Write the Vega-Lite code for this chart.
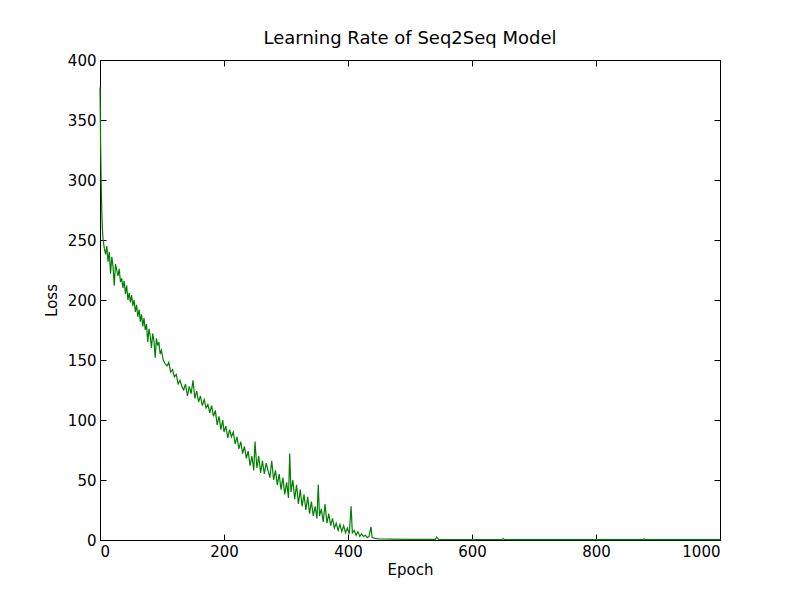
{
  "$schema": "https://vega.github.io/schema/vega-lite/v6.json",
  "width": 620,
  "height": 480,
  "autosize": "none",
  "padding": {"left": 100, "top": 60, "right": 80, "bottom": 60},
  "background": "white",
  "title": {"text": "Learning Rate of Seq2Seq Model", "font": "DejaVu Sans", "fontSize": 18, "fontWeight": "normal", "offset": 5},
  "config": {
    "view": {"stroke": "black", "strokeWidth": 1},
    "axis": {
      "labelFont": "DejaVu Sans", "labelFontSize": 15, "labelColor": "black",
      "titleFont": "DejaVu Sans", "titleFontSize": 15, "titleFontWeight": "normal", "titleColor": "black",
      "domainColor": "black", "tickColor": "black", "tickSize": -6, "labelPadding": 10,
      "format": "d", "grid": false
    }
  },
  "data": {"values": [
    {"epoch":0,"loss":377},{"epoch":1,"loss":330},{"epoch":2,"loss":295},{"epoch":3,"loss":272},{"epoch":4,"loss":258},{"epoch":5,"loss":250},{"epoch":7,"loss":243},{"epoch":9,"loss":238},{"epoch":11,"loss":245},{"epoch":13,"loss":232},{"epoch":15,"loss":240},{"epoch":17,"loss":222},{"epoch":19,"loss":236},{"epoch":21,"loss":228},{"epoch":23,"loss":212},{"epoch":25,"loss":230},{"epoch":27,"loss":225},{"epoch":29,"loss":220},{"epoch":31,"loss":226},{"epoch":33,"loss":215},{"epoch":35,"loss":218},{"epoch":37,"loss":210},{"epoch":39,"loss":216},{"epoch":41,"loss":205},{"epoch":43,"loss":212},{"epoch":45,"loss":200},{"epoch":47,"loss":206},{"epoch":49,"loss":198},{"epoch":51,"loss":204},{"epoch":53,"loss":195},{"epoch":55,"loss":200},{"epoch":57,"loss":190},{"epoch":59,"loss":196},{"epoch":61,"loss":186},{"epoch":63,"loss":192},{"epoch":65,"loss":182},{"epoch":67,"loss":188},{"epoch":69,"loss":178},{"epoch":71,"loss":185},{"epoch":73,"loss":175},{"epoch":75,"loss":180},{"epoch":77,"loss":165},{"epoch":79,"loss":176},{"epoch":81,"loss":170},{"epoch":83,"loss":160},{"epoch":85,"loss":172},{"epoch":87,"loss":166},{"epoch":89,"loss":152},{"epoch":91,"loss":168},{"epoch":93,"loss":162},{"epoch":95,"loss":165},{"epoch":97,"loss":155},{"epoch":99,"loss":158},{"epoch":102,"loss":150},{"epoch":105,"loss":147},{"epoch":108,"loss":145},{"epoch":111,"loss":148},{"epoch":114,"loss":140},{"epoch":117,"loss":142},{"epoch":120,"loss":136},{"epoch":123,"loss":138},{"epoch":126,"loss":130},{"epoch":129,"loss":133},{"epoch":132,"loss":128},{"epoch":135,"loss":125},{"epoch":138,"loss":130},{"epoch":141,"loss":120},{"epoch":144,"loss":128},{"epoch":147,"loss":122},{"epoch":150,"loss":133},{"epoch":153,"loss":118},{"epoch":156,"loss":124},{"epoch":159,"loss":115},{"epoch":162,"loss":120},{"epoch":165,"loss":112},{"epoch":168,"loss":117},{"epoch":171,"loss":110},{"epoch":174,"loss":113},{"epoch":177,"loss":106},{"epoch":180,"loss":112},{"epoch":183,"loss":103},{"epoch":186,"loss":108},{"epoch":189,"loss":96},{"epoch":192,"loss":103},{"epoch":195,"loss":92},{"epoch":198,"loss":100},{"epoch":200,"loss":90},{"epoch":203,"loss":95},{"epoch":206,"loss":85},{"epoch":209,"loss":92},{"epoch":212,"loss":86},{"epoch":215,"loss":90},{"epoch":218,"loss":80},{"epoch":221,"loss":86},{"epoch":224,"loss":76},{"epoch":227,"loss":82},{"epoch":230,"loss":72},{"epoch":233,"loss":78},{"epoch":236,"loss":68},{"epoch":239,"loss":74},{"epoch":242,"loss":62},{"epoch":245,"loss":70},{"epoch":248,"loss":58},{"epoch":250,"loss":82},{"epoch":253,"loss":60},{"epoch":256,"loss":70},{"epoch":259,"loss":56},{"epoch":262,"loss":66},{"epoch":265,"loss":55},{"epoch":268,"loss":64},{"epoch":271,"loss":58},{"epoch":274,"loss":52},{"epoch":277,"loss":66},{"epoch":280,"loss":50},{"epoch":283,"loss":58},{"epoch":286,"loss":46},{"epoch":289,"loss":55},{"epoch":292,"loss":42},{"epoch":295,"loss":52},{"epoch":298,"loss":38},{"epoch":301,"loss":48},{"epoch":304,"loss":35},{"epoch":306,"loss":72},{"epoch":308,"loss":40},{"epoch":311,"loss":50},{"epoch":314,"loss":34},{"epoch":317,"loss":46},{"epoch":320,"loss":30},{"epoch":323,"loss":42},{"epoch":326,"loss":28},{"epoch":329,"loss":38},{"epoch":332,"loss":25},{"epoch":335,"loss":36},{"epoch":338,"loss":22},{"epoch":341,"loss":32},{"epoch":344,"loss":20},{"epoch":347,"loss":28},{"epoch":350,"loss":18},{"epoch":352,"loss":46},{"epoch":354,"loss":20},{"epoch":357,"loss":26},{"epoch":360,"loss":15},{"epoch":363,"loss":30},{"epoch":366,"loss":14},{"epoch":369,"loss":22},{"epoch":372,"loss":12},{"epoch":375,"loss":18},{"epoch":378,"loss":10},{"epoch":381,"loss":14},{"epoch":384,"loss":8},{"epoch":387,"loss":13},{"epoch":390,"loss":7},{"epoch":393,"loss":12},{"epoch":396,"loss":6},{"epoch":399,"loss":10},{"epoch":402,"loss":5},{"epoch":405,"loss":28},{"epoch":407,"loss":6},{"epoch":410,"loss":8},{"epoch":413,"loss":4},{"epoch":416,"loss":7},{"epoch":419,"loss":3},{"epoch":422,"loss":5},{"epoch":425,"loss":3},{"epoch":428,"loss":4},{"epoch":431,"loss":2},{"epoch":434,"loss":3},{"epoch":437,"loss":11},{"epoch":439,"loss":2},{"epoch":442,"loss":1.5},{"epoch":446,"loss":1.2},{"epoch":450,"loss":1.0},{"epoch":470,"loss":0.8},{"epoch":500,"loss":0.6},{"epoch":541,"loss":0.5},{"epoch":543,"loss":2.5},{"epoch":546,"loss":0.5},{"epoch":600,"loss":0.4},{"epoch":648,"loss":0.4},{"epoch":650,"loss":1.2},{"epoch":652,"loss":0.4},{"epoch":700,"loss":0.3},{"epoch":800,"loss":0.3},{"epoch":876,"loss":0.3},{"epoch":878,"loss":0.9},{"epoch":880,"loss":0.3},{"epoch":950,"loss":0.3},{"epoch":1000,"loss":0.3}
  ]},
  "layer": [
    {
      "mark": {"type": "line", "color": "green", "strokeWidth": 1.2},
      "encoding": {
        "x": {"field": "epoch", "type": "quantitative", "title": "Epoch", "scale": {"domain": [0, 1000], "nice": false}, "axis": {"values": [0, 200, 400, 600, 800, 1000], "titlePadding": 3}},
        "y": {"field": "loss", "type": "quantitative", "title": "Loss", "scale": {"domain": [0, 400], "nice": false}, "axis": {"values": [0, 50, 100, 150, 200, 250, 300, 350, 400], "titlePadding": 8}}
      }
    },
    {
      "mark": {"type": "line", "opacity": 0},
      "encoding": {
        "x": {"field": "epoch", "type": "quantitative", "scale": {"domain": [0, 1000], "nice": false}, "axis": {"orient": "top", "values": [0, 200, 400, 600, 800, 1000], "labels": false, "title": null}},
        "y": {"field": "loss", "type": "quantitative", "scale": {"domain": [0, 400], "nice": false}, "axis": {"orient": "right", "values": [0, 50, 100, 150, 200, 250, 300, 350, 400], "labels": false, "title": null}}
      }
    }
  ],
  "resolve": {"axis": {"x": "independent", "y": "independent"}}
}
